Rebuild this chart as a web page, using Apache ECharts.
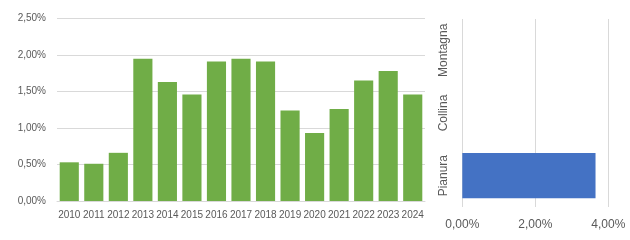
<!DOCTYPE html>
<html><head><meta charset="utf-8">
<script src="https://cdn.jsdelivr.net/npm/echarts@6/dist/echarts.min.js"></script>
<style>html,body{margin:0;padding:0;background:#fff}#c{width:630px;height:240px}</style>
</head><body><div id="c"></div>
<script>
const years = ['2010','2011','2012','2013','2014','2015','2016','2017','2018','2019','2020','2021','2022','2023','2024'];
const yearValues = [0.53,0.51,0.66,1.95,1.63,1.46,1.91,1.95,1.91,1.24,0.93,1.26,1.65,1.78,1.46];
const zones = ['Pianura','Collina','Montagna'];
const zoneValues = [3.65, 0, 0];
const leftTicks = [0, 0.5, 1, 1.5, 2, 2.5];
const rightTicks = [0, 2, 4];

const fmt = v => v.toFixed(2).replace('.', ',') + '%';
const txt = '#595959', grid = '#d9d9d9';
const chart = echarts.init(document.getElementById('c'), null, {renderer:'canvas'});
chart.setOption({
  animation:false,
  textStyle:{fontFamily:'Liberation Sans'},
  grid:[
    {left:57, right:205, top:18.5, bottom:39},
    {left:462.3, right:21.7, top:19, bottom:33}
  ],
  xAxis:[
    {gridIndex:0, type:'category', data:years,
     axisLine:{lineStyle:{color:grid}}, axisTick:{show:false},
     axisLabel:{color:txt, fontSize:10, margin:9, interval:0}},
    {gridIndex:1, type:'value', min:rightTicks[0], max:rightTicks[rightTicks.length-1], interval:rightTicks[1]-rightTicks[0],
     axisLine:{show:false}, axisTick:{show:false},
     splitLine:{lineStyle:{color:grid}},
     axisLabel:{color:txt, fontSize:12, margin:12, formatter:fmt}}
  ],
  yAxis:[
    {gridIndex:0, type:'value', min:leftTicks[0], max:leftTicks[leftTicks.length-1], interval:leftTicks[1]-leftTicks[0],
     axisLine:{show:false}, axisTick:{show:false},
     splitLine:{lineStyle:{color:grid}},
     axisLabel:{color:txt, fontSize:10, margin:11, formatter:fmt}},
    {gridIndex:1, type:'category', data:zones,
     axisLine:{show:false}, axisTick:{show:false},
     axisLabel:{color:txt, fontSize:12, rotate:90, margin:13, interval:0}}
  ],
  series:[
    {type:'bar', xAxisIndex:0, yAxisIndex:0, data:yearValues, barCategoryGap:'22%',
     itemStyle:{color:'#70AD47'}},
    {type:'bar', xAxisIndex:1, yAxisIndex:1, data:zoneValues, barCategoryGap:'28%',
     itemStyle:{color:'#4472C4'}}
  ]
});
</script></body></html>
